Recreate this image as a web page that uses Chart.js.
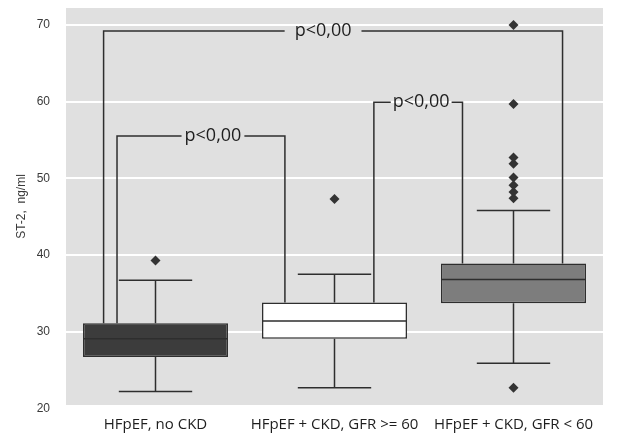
<!DOCTYPE html>
<html>
<head>
<meta charset="utf-8">
<script src="https://cdn.jsdelivr.net/npm/chart.js@4.4.1/dist/chart.umd.min.js"></script>
<style>
  html, body { margin: 0; padding: 0; background: #fff; }
  #wrap { width: 623px; height: 440px; }
</style>
</head>
<body>
<div id="wrap"><canvas id="chart"></canvas></div>
<script>
// groups
const groups = ['HFpEF, no CKD', 'HFpEF + CKD, GFR >= 60', 'HFpEF + CKD, GFR < 60'];
// box stats (ST-2, ng/ml)
const q1 = [26.7, 29.1, 33.7];
const median = [29.1, 31.4, 36.8];
const q3 = [31.1, 33.8, 38.9];
const whiskerLow = [22.2, 22.7, 25.9];
const whiskerHigh = [36.7, 37.5, 45.8];
const outliers = [[39.3], [47.3], [22.7, 47.4, 48.2, 49.1, 50.1, 51.9, 52.7, 59.7, 70.0]];
const boxColors = ['#3c3c3c', '#ffffff', '#7d7d7d'];
const yTicks = [20, 30, 40, 50, 60, 70];

// significance brackets: [from group, to group, height, label]
const brackets = [
  [0, 2, 69.2, 'p<0,00'],
  [0, 1, 55.5, 'p<0,00'],
  [1, 2, 59.9, 'p<0,00']
];
// where the bracket legs sit relative to each group centre
const legOffsets = [[-0.29, 0.274], [-0.215, -0.277], [0.22, -0.285]];
// label nudges (px) and the gap left round each label
const labelShift = [-10, 12, 3];
const labelGap = [10, 3, 2];

const lineColor = '#2e2e2e';
const boxHalf = 0.405;
const capHalf = 0.205;

function segments(list) {
  // list of [x1,y1,x2,y2] -> points with null breaks
  const pts = [];
  list.forEach(s => {
    pts.push({x: s[0], y: s[1]}, {x: s[2], y: s[3]}, {x: s[0], y: null});
  });
  return pts;
}

let medSegs = [], whiskSegs = [];
groups.forEach((g, i) => {
  medSegs.push([i - boxHalf, median[i], i + boxHalf, median[i]]);
  whiskSegs.push([i, q3[i], i, whiskerHigh[i]]);
  whiskSegs.push([i, q1[i], i, whiskerLow[i]]);
  whiskSegs.push([i - capHalf, whiskerHigh[i], i + capHalf, whiskerHigh[i]]);
  whiskSegs.push([i - capHalf, whiskerLow[i], i + capHalf, whiskerLow[i]]);
});

let outPts = [];
outliers.forEach((arr, i) => arr.forEach(v => outPts.push({x: i, y: v})));

const bgPlugin = {
  id: 'plotBg',
  beforeDraw(chart) {
    const a = chart.chartArea, ctx = chart.ctx;
    ctx.save();
    ctx.fillStyle = '#e0e0e0';
    ctx.fillRect(a.left, a.top, a.right - a.left, a.bottom - a.top);
    ctx.restore();
  }
};

const bracketPlugin = {
  id: 'brackets',
  afterDatasetsDraw(chart) {
    const ctx = chart.ctx;
    const xs = chart.scales.x2, ys = chart.scales.y;
    ctx.save();
    ctx.strokeStyle = lineColor;
    ctx.lineWidth = 1.5;
    ctx.fillStyle = '#1e1e1e';
    ctx.font = '18px "Open Sans", sans-serif';
    ctx.textAlign = 'center';
    ctx.textBaseline = 'middle';
    brackets.forEach((b, k) => {
      const [a, c, h, label] = b;
      const xa = xs.getPixelForValue(a + legOffsets[k][0]);
      const xc = xs.getPixelForValue(c + legOffsets[k][1]);
      const yTop = ys.getPixelForValue(h);
      const ya = ys.getPixelForValue(q3[a]);
      const yc = ys.getPixelForValue(q3[c]);
      const mid = (xa + xc) / 2 + labelShift[k];
      const half = ctx.measureText(label).width / 2 + labelGap[k];
      ctx.beginPath();
      ctx.moveTo(xa, ya); ctx.lineTo(xa, yTop); ctx.lineTo(mid - half, yTop);
      ctx.moveTo(mid + half, yTop); ctx.lineTo(xc, yTop); ctx.lineTo(xc, yc);
      ctx.stroke();
      ctx.fillText(label, mid, yTop);
    });
    ctx.restore();
  }
};

new Chart(document.getElementById('chart'), {
  type: 'bar',
  data: {
    labels: groups,
    datasets: [
      {
        type: 'bar',
        data: groups.map((g, i) => [q1[i], q3[i]]),
        backgroundColor: boxColors,
        borderColor: lineColor,
        borderWidth: 1.5,
        borderSkipped: false,
        grouped: false,
        barPercentage: boxHalf * 2,
        categoryPercentage: 1,
        xAxisID: 'x',
        order: 3
      },
      {
        type: 'line',
        data: segments(medSegs),
        xAxisID: 'x2',
        borderColor: lineColor,
        borderWidth: 1.5,
        pointRadius: 0,
        spanGaps: false,
        order: 2
      },
      {
        type: 'line',
        data: segments(whiskSegs),
        xAxisID: 'x2',
        borderColor: lineColor,
        borderWidth: 1.5,
        pointRadius: 0,
        spanGaps: false,
        order: 2
      },
      {
        type: 'scatter',
        data: outPts,
        xAxisID: 'x2',
        pointStyle: 'rectRot',
        pointRadius: 5,
        backgroundColor: '#333',
        borderColor: '#333',
        borderWidth: 0,
        order: 1
      }
    ]
  },
  options: {
    responsive: true,
    maintainAspectRatio: false,
    animation: false,
    layout: { padding: { left: 0, right: 20, top: 8, bottom: 4 } },
    plugins: {
      legend: { display: false },
      tooltip: { enabled: false }
    },
    scales: {
      x: {
        type: 'category',
        offset: true,
        afterFit(scale) { scale.height = 31; scale.paddingLeft = 0; scale.paddingRight = 0; },
        grid: { display: false, drawTicks: false },
        border: { display: false },
        ticks: {
          color: '#1e1e1e',
          padding: 11,
          maxRotation: 0,
          font: { family: '"Open Sans", sans-serif', size: 15 }
        }
      },
      x2: {
        type: 'linear',
        min: -0.5,
        max: 2.5,
        offset: false,
        grid: { offset: false },
        display: false
      },
      y: {
        min: 20.45,
        max: 72.2,
        afterBuildTicks(scale) {
          scale.ticks = yTicks.map(v => ({ value: v }));
        },
        afterFit(scale) { scale.width = 66; scale.paddingTop = 0; scale.paddingBottom = 0; },
        grid: { color: '#ffffff', lineWidth: 2, drawTicks: false },
        border: { display: false },
        ticks: {
          color: '#3a3a3a',
          padding: 16,
          font: { family: '"Liberation Sans", Arial, sans-serif', size: 12 }
        },
        title: {
          display: true,
          text: 'ST-2,  ng/ml',
          color: '#3a3a3a',
          padding: { top: 14, bottom: 0 },
          font: { family: '"Liberation Sans", Arial, sans-serif', size: 12 }
        }
      }
    }
  },
  plugins: [bgPlugin, bracketPlugin]
});
</script>
</body>
</html>
